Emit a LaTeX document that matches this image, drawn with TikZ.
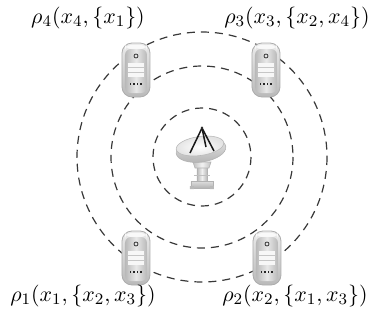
\documentclass[tikz,border=0pt]{standalone}
\begin{document}
\begin{tikzpicture}[x=0.5pt,y=-0.5pt,
  ring/.style={draw=black!78, dashed, dash pattern=on 4 off 3, line width=0.6pt},
  label/.style={font=\fontsize{11}{13}\selectfont, inner sep=0pt},
  server/.pic={
    % outer shell
    \shade[top color=gray!15, bottom color=gray!55, draw=gray!65, line width=0.4pt,
           rounded corners=5] (-14,-27) rectangle (14,27);
    % handle strip
    \fill[white, opacity=0.75, rounded corners=3] (-11,-25) rectangle (11,-21);
    % front face
    \shade[left color=gray!55, right color=gray!55, middle color=gray!18,
           rounded corners=3] (-11,-21) rectangle (11,23);
    % power button
    \draw[gray!40!black, line width=0.4pt] (0,-14) circle[radius=2];
    % drive bays
    \fill[gray!6] (-8,-7) rectangle (8,7);
    \draw[gray!45, line width=0.3pt] (-8,-2.5) -- (8,-2.5) (-8,2.5) -- (8,2.5);
    % ports
    \foreach \p in {-6,-2.5,1,4.5} \fill[gray!30!black] (\p,13) rectangle ++(1.2,2.2);
  },
  dish/.pic={
    % base and feet
    \shade[top color=gray!25, bottom color=gray!60, draw=gray!60, line width=0.3pt]
      (-9,26) rectangle (13,33);
    \fill[gray!55] (-10,31) rectangle (-6,34) (10,31) rectangle (14,34);
    % column
    \shade[left color=gray!55, right color=gray!55, middle color=gray!12,
           draw=gray!60, line width=0.3pt]
      (-3,12) rectangle (7,26);
    % flange under the bowl
    \shade[left color=gray!50, right color=gray!50, middle color=gray!10,
           draw=gray!60, line width=0.3pt]
      (-7,7) -- (11,7) -- (9,13) -- (-5,13) -- cycle;
    \draw[gray!50, line width=0.3pt] (-6,20) -- (10,20);
    % bowl underside
    \shade[top color=gray!20, bottom color=gray!60, draw=gray!60, line width=0.3pt,
           rotate around={8:(1,-5)}] (1,-5) ellipse[x radius=25, y radius=12];
    % bowl face
    \shade[inner color=white, outer color=gray!22, draw=gray!55, line width=0.3pt,
           rotate around={8:(0,-9)}] (0,-9) ellipse[x radius=24, y radius=9.5];
    % feed arms
    \draw[gray!20!black, line width=0.75pt] (-10,-2) -- (2,-27) -- (14,-4);
    \draw[gray!20!black, line width=0.75pt] (2,-27) -- (6,-8);
    \fill[gray!35!black] (2,-27) circle[radius=1.4];
  }]
\useasboundingbox (0,0) rectangle (371,323);

% transmission rings
\draw[ring] (202,157) circle[radius=49];
\draw[ring] (202,157) circle[radius=91];
\draw[ring] (202,157) circle[radius=125];

% base station
\coordinate (bs) at (200,155);
\pic at (bs) {dish};

% servers
\coordinate (s4) at (136,70);
\coordinate (s3) at (266,70);
\coordinate (s1) at (136,258);
\coordinate (s2) at (267,258);
\foreach \s in {s1,s2,s3,s4} \pic at (\s) {server};

% labels
\node[label] (l4) at (88,18)  {$\rho_4(x_4,\{x_1\})$};
\node[label] (l3) at (297,18) {$\rho_3(x_3,\{x_2,x_4\})$};
\node[label] (l1) at (83,296) {$\rho_1(x_1,\{x_2,x_3\})$};
\node[label] (l2) at (295,296) {$\rho_2(x_2,\{x_1,x_3\})$};
\end{tikzpicture}
\end{document}
